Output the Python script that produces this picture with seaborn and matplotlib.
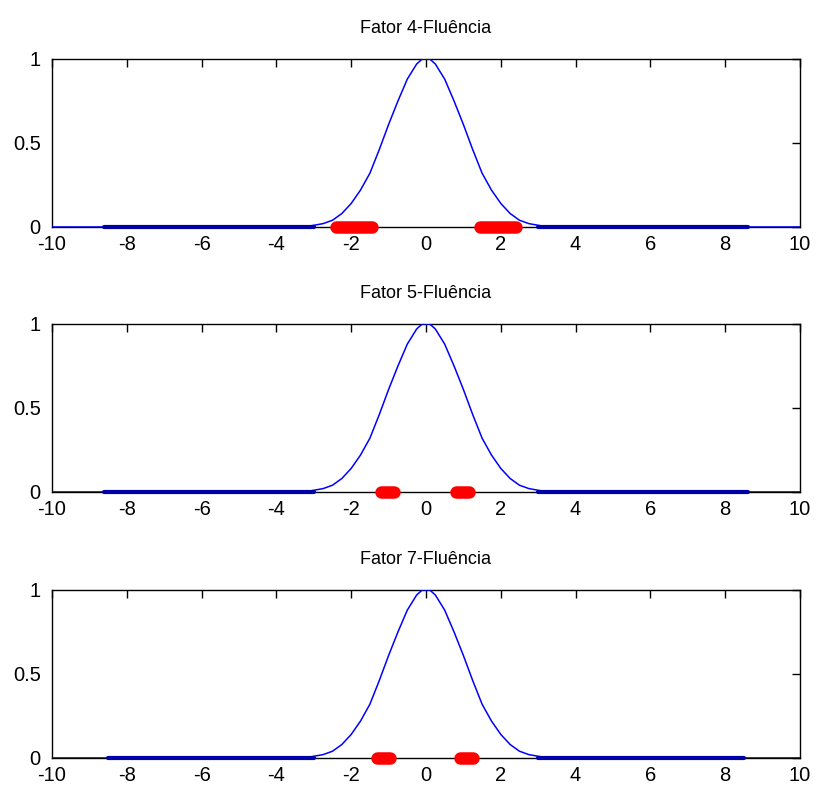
import numpy as np
import pandas as pd
import seaborn as sns
import matplotlib.pyplot as plt

sns.set_style("white")
plt.rcParams['font.family'] = ['Liberation Sans', 'DejaVu Sans']
plt.rcParams['axes.unicode_minus'] = False
plt.rcParams['text.color'] = 'black'
plt.rcParams['xtick.labelcolor'] = 'black'
plt.rcParams['ytick.labelcolor'] = 'black'

titles = ["Fator 4-Fluência", "Fator 5-Fluência", "Fator 7-Fluência"]

# membership curve
curve_x = [-10, -3.25, -3.0, -2.75, -2.5, -2.25, -2.0, -1.75, -1.5, -1.25, -1.0,
           -0.75, -0.5, -0.25, -0.1, 0.1, 0.25, 0.5, 0.75, 1.0, 1.25, 1.5, 1.75,
           2.0, 2.25, 2.5, 2.75, 3.0, 3.25, 10]
curve_y = [0, 0, 0.01, 0.02, 0.04, 0.08, 0.14, 0.22, 0.32, 0.46, 0.61,
           0.75, 0.88, 0.97, 1.0, 1.0, 0.97, 0.88, 0.75, 0.61, 0.46, 0.32, 0.22,
           0.14, 0.08, 0.04, 0.02, 0.01, 0, 0]

# thick blue stretches on the baseline
blue_segs = [[(-8.6, -3.0), (3.0, 8.6)],
             [(-8.6, -3.0), (3.0, 8.6)],
             [(-8.5, -3.0), (3.0, 8.5)]]

# red stretches on the baseline
red_segs = [[(-2.4, -1.45), (1.45, 2.4)],
            [(-1.2, -0.85), (0.8, 1.15)],
            [(-1.3, -0.95), (0.9, 1.25)]]

fig = plt.figure(figsize=(8.16, 7.95), dpi=100)
tops = [0.9258, 0.5925, 0.2579]
height = 0.2113
left, width = 0.0637, 0.9167

curve = pd.DataFrame({"x": curve_x, "y": curve_y})

for i in range(3):
    ax = fig.add_axes([left, tops[i] - height, width, height])
    sns.lineplot(data=curve, x="x", y="y", sort=False, estimator=None,
                 color="#0000ff", linewidth=1.1, ax=ax)
    for a, b in blue_segs[i]:
        sns.lineplot(x=[a, b], y=[0, 0], color="#0000a8", linewidth=3,
                     estimator=None, ax=ax, clip_on=False, zorder=3)
    for a, b in red_segs[i]:
        sns.lineplot(x=[a, b], y=[0, 0], color="#ff0000", linewidth=9,
                     solid_capstyle="round", estimator=None, ax=ax,
                     clip_on=False, zorder=5)
    ax.set_xlim(-10, 10)
    ax.set_ylim(0, 1)
    ax.set_xticks(np.arange(-10, 11, 2))
    ax.set_yticks([0, 0.5, 1])
    ax.set_yticklabels(["0", "0.5", "1"])
    ax.set_xlabel("")
    ax.set_ylabel("")
    ax.set_title(titles[i], fontsize=13, pad=19, color="black")
    ax.tick_params(direction="in", top=True, right=True, length=6, width=1,
                   labelsize=14.5, color="black")
    ax.tick_params(axis="x", pad=6)
    ax.tick_params(axis="y", pad=8)
    for s in ax.spines.values():
        s.set_color("black")
        s.set_linewidth(1)
        s.set_zorder(0)

fig.savefig("out.png", dpi=100)
